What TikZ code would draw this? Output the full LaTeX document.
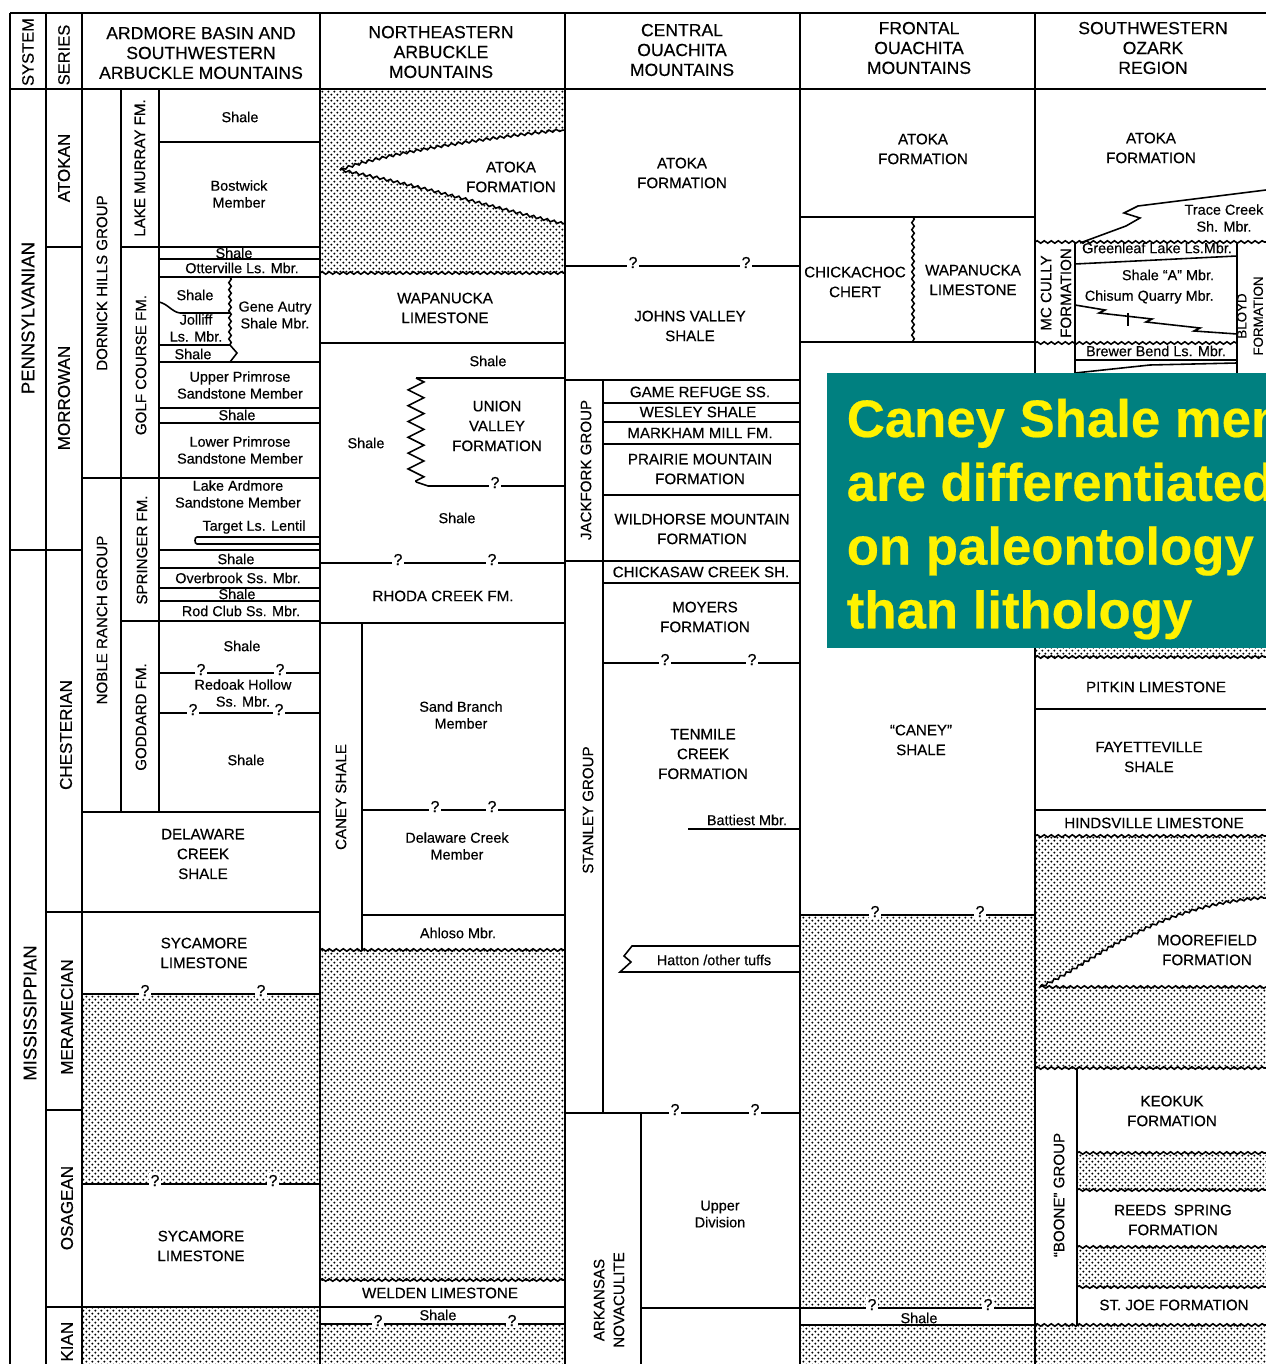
\documentclass[tikz,border=0pt]{standalone}
\usepackage{fontspec}
\setmainfont{Liberation Sans}[FakeBold=0.4]
\usetikzlibrary{patterns,decorations.pathmorphing}
\pgfdeclarepatternformonly{sanddots}{\pgfqpoint{-0.8pt}{-0.8pt}}{\pgfqpoint{2.6pt}{2.6pt}}{\pgfqpoint{3.4pt}{3.4pt}}{
  \pgfpathcircle{\pgfqpoint{0pt}{0pt}}{0.62pt}
  \pgfpathcircle{\pgfqpoint{1.7pt}{1.7pt}}{0.62pt}
  \pgfusepath{fill}}
\definecolor{banner}{RGB}{0,128,128}

\begin{document}
\begin{tikzpicture}
[x=0.02cm,y=-0.02cm,line width=0.9pt,
hd/.style={font=\fontsize{10}{11.3}\selectfont,align=center},
fm/.style={font=\fontsize{8.6}{11.3}\selectfont,align=center},
mb/.style={font=\fontsize{8.2}{9.6}\selectfont,align=center},
sy/.style={rotate=90,font=\fontsize{10.5}{12}\selectfont},
sr/.style={rotate=90,font=\fontsize{9.7}{11}\selectfont},
vt/.style={rotate=90,font=\fontsize{8.6}{11.3}\selectfont,align=center},
qm/.style={fill=white,inner sep=1pt,anchor=base,font=\fontsize{9}{9}\selectfont},
sand/.style={pattern=sanddots},
wavy/.style={decorate,decoration={snake,amplitude=.7pt,segment length=4pt}},
toothed/.style={decorate,decoration={zigzag,amplitude=4.5pt,segment length=9pt}}]

\useasboundingbox (0,0) rectangle (1266,1364);
\fill[white] (0,0) rectangle (1266,1364);
\clip (0,0) rectangle (1266,1364);

% dotted (missing section)
\fill[sand] (320,89) rectangle (565,273);
\fill[white] (340,170) .. controls (380,155) and (470,140) .. (565,130) -- (565,224) .. controls (500,210) and (420,185) .. (340,170) -- cycle;
\fill[sand] (82,994) rectangle (320,1184);
\fill[sand] (82,1307) rectangle (320,1364);
\fill[sand] (320,950) rectangle (565,1280);
\fill[sand] (320,1324) rectangle (565,1364);
\fill[sand] (800,915) rectangle (1035,1308);
\fill[sand] (800,1325) rectangle (1035,1364);
\fill[sand] (1035,636) rectangle (1266,657);
\fill[sand] (1035,836) rectangle (1266,1068);
\fill[white] (1040,987) .. controls (1090,965) and (1150,905) .. (1266,898) -- (1266,987) -- cycle;
\fill[sand] (1077,1153) rectangle (1266,1190);
\fill[sand] (1077,1247) rectangle (1266,1287);
\fill[sand] (1035,1325) rectangle (1266,1364);

% frame
\draw (10,13) -- (1266,13);
\draw (10,89) -- (1266,89);
\foreach \x in {10,46,82,320,565,800,1035} \draw (\x,13) -- (\x,1364);

% system and series
\draw (10,550) -- (82,550);
\draw (46,247) -- (82,247) (121,247) -- (320,247);
\draw (46,912) -- (320,912);
\draw (46,1110) -- (82,1110);
\draw (46,1307) -- (320,1307);

% ardmore basin
\draw (121,89) -- (121,812) (159,89) -- (159,812);
\foreach \y in {142,259,277,362,408,423,550,568,588,601} \draw (159,\y) -- (320,\y);
\draw (82,478) -- (320,478) (121,621) -- (320,621) (82,812) -- (320,812);
\draw[wavy] (230,277) -- (230,345);
\draw (230,345) -- (237,353) -- (230,362);
\draw (159,302) .. controls (168,304) and (172,312) .. (180,313) -- (230,313);
\draw (159,345) -- (230,345);
\draw (320,537) -- (197,537) to[out=180,in=180] (197,544) -- (320,544);
\draw (159,673) -- (320,673) (159,713) -- (320,713);
\draw (82,994) -- (320,994) (82,1184) -- (320,1184);

% northeastern arbuckle
\draw[wavy] (340,170) .. controls (380,155) and (470,140) .. (565,130);
\draw[wavy] (340,170) .. controls (420,185) and (500,210) .. (565,224);
\draw[wavy] (320,273) -- (565,273);
\draw (320,343) -- (565,343);
\draw (565,378) -- (416,378);
\draw[toothed] (416,378) -- (416,482);
\draw (416,482) -- (428,486) -- (565,486);
\draw (320,563) -- (565,563) (320,623) -- (565,623);
\draw (362,623) -- (362,950);
\draw (362,810) -- (565,810) (362,915) -- (565,915);
\draw[wavy] (320,950) -- (565,950);
\draw[wavy] (320,1280) -- (565,1280);
\draw (320,1307) -- (565,1307) (320,1324) -- (565,1324);

% central ouachita
\draw (565,266) -- (800,266) (565,380) -- (800,380);
\draw (603,380) -- (603,1113);
\draw (603,403) -- (800,403) (603,422) -- (800,422) (603,444) -- (800,444) (603,495) -- (800,495);
\draw (565,561) -- (800,561) (603,583) -- (800,583) (603,663) -- (800,663);
\draw (688,829) -- (800,829);
\draw (800,946) -- (632,946) -- (624,956) -- (631,962) -- (620,972) -- (800,972);
\draw (565,1113) -- (800,1113);
\draw (641,1113) -- (641,1364);
\draw (641,1308) -- (800,1308);

% frontal ouachita
\draw (800,217) -- (1035,217) (800,342) -- (1035,342);
\draw[wavy] (913,217) -- (913,342);
\draw (800,915) -- (1035,915);
\draw (800,1308) -- (1035,1308) (800,1325) -- (1035,1325);

% southwestern ozark
\draw (1266,190) -- (1138,206) -- (1124,213) -- (1140,218) -- (1126,226) -- (1080,243);
\draw[wavy] (1035,242) -- (1266,242);
\draw (1075,242) -- (1075,373) (1237,242) -- (1237,373);
\draw (1075,264) -- (1237,256);
\draw (1075,305) -- (1105,310) -- (1099,313) -- (1152,319) -- (1146,322) -- (1200,328) -- (1194,331) -- (1237,334);
\draw (1128,313) -- (1128,326);
\draw[wavy] (1035,343) -- (1237,343);
\draw (1075,360) -- (1237,360);
\draw (1075,373) -- (1150,365) -- (1237,363);
\draw[wavy] (1035,657) -- (1266,657);
\draw (1035,709) -- (1266,709) (1035,810) -- (1266,810);
\draw[wavy] (1035,836) -- (1266,836);
\draw[wavy] (1040,987) .. controls (1090,965) and (1150,905) .. (1266,898);
\draw[wavy] (1040,987) -- (1266,987);
\draw[wavy] (1035,1068) -- (1266,1068);
\draw (1077,1068) -- (1077,1325);
\draw[wavy] (1077,1153) -- (1266,1153);
\draw[wavy] (1077,1190) -- (1266,1190);
\draw[wavy] (1077,1247) -- (1266,1247);
\draw[wavy] (1077,1287) -- (1266,1287);
\draw[wavy] (1035,1325) -- (1266,1325);

% question marks
\node[qm] (qa1) at (201,675) {?};
\node[qm] (qa2) at (280,675) {?};
\node[qm] (qa3) at (193,715) {?};
\node[qm] (qa4) at (279,715) {?};
\node[qm] (qa5) at (145,996) {?};
\node[qm] (qa6) at (261,996) {?};
\node[qm] (qa7) at (155,1186) {?};
\node[qm] (qa8) at (273,1186) {?};
\node[qm] (qb1) at (495,488) {?};
\node[qm] (qb2) at (398,565) {?};
\node[qm] (qb3) at (492,565) {?};
\node[qm] (qb4) at (435,812) {?};
\node[qm] (qb5) at (492,812) {?};
\node[qm] (qb6) at (378,1326) {?};
\node[qm] (qb7) at (512,1326) {?};
\node[qm] (qc1) at (633,268) {?};
\node[qm] (qc2) at (746,268) {?};
\node[qm] (qc3) at (665,665) {?};
\node[qm] (qc4) at (752,665) {?};
\node[qm] (qc5) at (675,1115) {?};
\node[qm] (qc6) at (755,1115) {?};
\node[qm] (qd1) at (875,917) {?};
\node[qm] (qd2) at (980,917) {?};
\node[qm] (qd3) at (872,1310) {?};
\node[qm] (qd4) at (988,1310) {?};

% headings
\node[rotate=90,font=\fontsize{9.4}{11}\selectfont] (sys) at (28,52) {SYSTEM};
\node[rotate=90,font=\fontsize{9.4}{11}\selectfont] (ser) at (64,55) {SERIES};
\node[hd] (ardmore) at (201,53) {ARDMORE BASIN AND\\SOUTHWESTERN\\ARBUCKLE MOUNTAINS};
\node[hd] (nearb) at (441,52) {NORTHEASTERN\\ARBUCKLE\\MOUNTAINS};
\node[hd] (centr) at (682,50) {CENTRAL\\OUACHITA\\MOUNTAINS};
\node[hd] (front) at (919,48) {FRONTAL\\OUACHITA\\MOUNTAINS};
\node[hd] (ozark) at (1153,48) {SOUTHWESTERN\\OZARK\\REGION};

\node[sy] (penn) at (28,318) {PENNSYLVANIAN};
\node[sy] (miss) at (30,1013) {MISSISSIPPIAN};
\node[sr] (atokan) at (64,168) {ATOKAN};
\node[sr] (morrowan) at (64,398) {MORROWAN};
\node[sr] (chester) at (66,735) {CHESTERIAN};
\node[sr] (meramec) at (67,1017) {MERAMECIAN};
\node[sr] (osage) at (67,1208) {OSAGEAN};
\node[sr,anchor=east,inner sep=0pt] (kinder) at (67,1321) {KIAN};

% ardmore labels
\node[vt] (dornick) at (102,283) {DORNICK HILLS GROUP};
\node[vt] (noble) at (102,620) {NOBLE RANCH GROUP};
\node[vt] (murray) at (140,168) {LAKE MURRAY FM.};
\node[vt] (golf) at (141,365) {GOLF COURSE FM.};
\node[vt] (springer) at (142,550) {SPRINGER FM.};
\node[vt] (goddard) at (141,717) {GODDARD FM.};
\node[mb] (sh1) at (240,117) {Shale};
\node[mb] (bostwick) at (239,194) {Bostwick\\Member};
\node[mb,inner sep=0pt] (sh2) at (234,253) {Shale};
\node[mb,inner sep=0pt] (otter) at (242,268) {Otterville Ls. Mbr.};
\node[mb] (sh3) at (195,295) {Shale};
\node[mb,inner sep=0pt] (jolliff) at (196,328) {Jolliff\\Ls. Mbr.};
\node[mb,inner sep=0pt] (sh4) at (193,354) {Shale};
\node[mb] (autry) at (275,315) {Gene Autry\\Shale Mbr.};
\node[mb] (uprim) at (240,385) {Upper Primrose\\Sandstone Member};
\node[mb,inner sep=0pt] (sh5) at (237,415) {Shale};
\node[mb] (lprim) at (240,450) {Lower Primrose\\Sandstone Member};
\node[mb] (lardm) at (238,494) {Lake Ardmore\\Sandstone Member};
\node[mb] (target) at (254,527) {Target Ls. Lentil};
\node[mb,inner sep=0pt] (sh6) at (236,559) {Shale};
\node[mb,inner sep=0pt] (overb) at (238,578) {Overbrook Ss. Mbr.};
\node[mb,inner sep=0pt] (sh7) at (237,594) {Shale};
\node[mb,inner sep=0pt] (rodclub) at (241,611) {Rod Club Ss. Mbr.};
\node[mb] (sh8) at (242,646) {Shale};
\node[mb] (redoak) at (243,693) {Redoak Hollow\\Ss. Mbr.};
\node[mb] (sh9) at (246,760) {Shale};
\node[fm] (delcreek) at (203,854) {DELAWARE\\CREEK\\SHALE};
\node[fm] (syc1) at (204,953) {SYCAMORE\\LIMESTONE};
\node[fm] (syc2) at (201,1246) {SYCAMORE\\LIMESTONE};

% northeastern arbuckle labels
\node[fm] (atoka1) at (511,177) {ATOKA\\FORMATION};
\node[fm] (wapa1) at (445,308) {WAPANUCKA\\LIMESTONE};
\node[mb] (sh10) at (488,361) {Shale};
\node[fm] (union) at (497,426) {UNION\\VALLEY\\FORMATION};
\node[mb] (sh11) at (366,443) {Shale};
\node[mb] (sh12) at (457,518) {Shale};
\node[fm] (rhoda) at (443,596) {RHODA CREEK FM.};
\node[vt] (caney1) at (341,797) {CANEY SHALE};
\node[mb] (sandbr) at (461,715) {Sand Branch\\Member};
\node[mb] (delmbr) at (457,846) {Delaware Creek\\Member};
\node[mb] (ahloso) at (458,933) {Ahloso Mbr.};
\node[fm] (welden) at (440,1293) {WELDEN LIMESTONE};
\node[mb,inner sep=0pt] (sh13) at (438,1315) {Shale};

% central ouachita labels
\node[fm] (atoka2) at (682,173) {ATOKA\\FORMATION};
\node[fm] (johns) at (690,326) {JOHNS VALLEY\\SHALE};
\node[vt] (jackfork) at (586,470) {JACKFORK GROUP};
\node[fm,inner sep=0pt] (game) at (700,392) {GAME REFUGE SS.};
\node[fm,inner sep=0pt] (wesley) at (698,412) {WESLEY SHALE};
\node[fm,inner sep=0pt] (markham) at (700,433) {MARKHAM MILL FM.};
\node[fm] (prairie) at (700,469) {PRAIRIE MOUNTAIN\\FORMATION};
\node[fm] (wildh) at (702,529) {WILDHORSE MOUNTAIN\\FORMATION};
\node[fm,inner sep=0pt] (chicka) at (701,572) {CHICKASAW CREEK SH.};
\node[fm] (moyers) at (705,617) {MOYERS\\FORMATION};
\node[vt] (stanley) at (588,810) {STANLEY GROUP};
\node[fm] (tenmile) at (703,754) {TENMILE\\CREEK\\FORMATION};
\node[mb] (battiest) at (747,820) {Battiest Mbr.};
\node[mb] (hatton) at (714,960) {Hatton /other tuffs};
\node[vt] (novac) at (609,1300) {ARKANSAS\\NOVACULITE};
\node[mb] (upperdiv) at (720,1214) {Upper\\Division};

% frontal ouachita labels
\node[fm] (atoka3) at (923,149) {ATOKA\\FORMATION};
\node[fm] (chert) at (855,282) {CHICKACHOC\\CHERT};
\node[fm] (wapa2) at (973,280) {WAPANUCKA\\LIMESTONE};
\node[fm] (caney2) at (921,740) {“CANEY”\\SHALE};
\node[mb,inner sep=0pt] (sh14) at (919,1318) {Shale};

% southwestern ozark labels
\node[fm] (atoka4) at (1151,148) {ATOKA\\FORMATION};
\node[mb] (trace) at (1224,218) {Trace Creek\\Sh. Mbr.};
\node[vt] (mccully) at (1056,293) {MC CULLY\\FORMATION};
\node[mb,inner sep=0pt] (greenl) at (1157,248) {Greenleaf Lake Ls.Mbr.};
\node[mb] (shaleA) at (1168,275) {Shale “A” Mbr.};
\node[mb,anchor=west,inner sep=0pt] (chisum) at (1084,297) {Chisum Quarry Mbr.};
\node[vt,inner sep=0pt,font=\fontsize{7.6}{9.4}\selectfont] (bloyd) at (1250,316) {BLOYD\\FORMATION};
\node[mb,inner sep=0pt] (brewer) at (1156,351) {Brewer Bend Ls. Mbr.};
\node[fm] (pitkin) at (1156,687) {PITKIN LIMESTONE};
\node[fm] (fayette) at (1149,757) {FAYETTEVILLE\\SHALE};
\node[fm,inner sep=0pt] (hinds) at (1154,823) {HINDSVILLE LIMESTONE};
\node[fm] (moore) at (1207,950) {MOOREFIELD\\FORMATION};
\node[vt] (boone) at (1059,1195) {“BOONE” GROUP};
\node[fm] (keokuk) at (1172,1111) {KEOKUK\\FORMATION};
\node[fm] (reeds) at (1173,1220) {REEDS\enspace SPRING\\FORMATION};
\node[fm] (stjoe) at (1174,1305) {ST. JOE FORMATION};

% note
\fill[banner] (827,373) rectangle (1266,648);
\begin{scope}
\clip (827,373) rectangle (1266,648);
\node[anchor=north west,inner sep=0pt,align=left,text=yellow,font=\fontsize{30}{36.3}\selectfont\bfseries] (note) at (846,398) {Caney Shale members\\are differentiated\\on paleontology\\than lithology};
\end{scope}
\end{tikzpicture}
\end{document}
